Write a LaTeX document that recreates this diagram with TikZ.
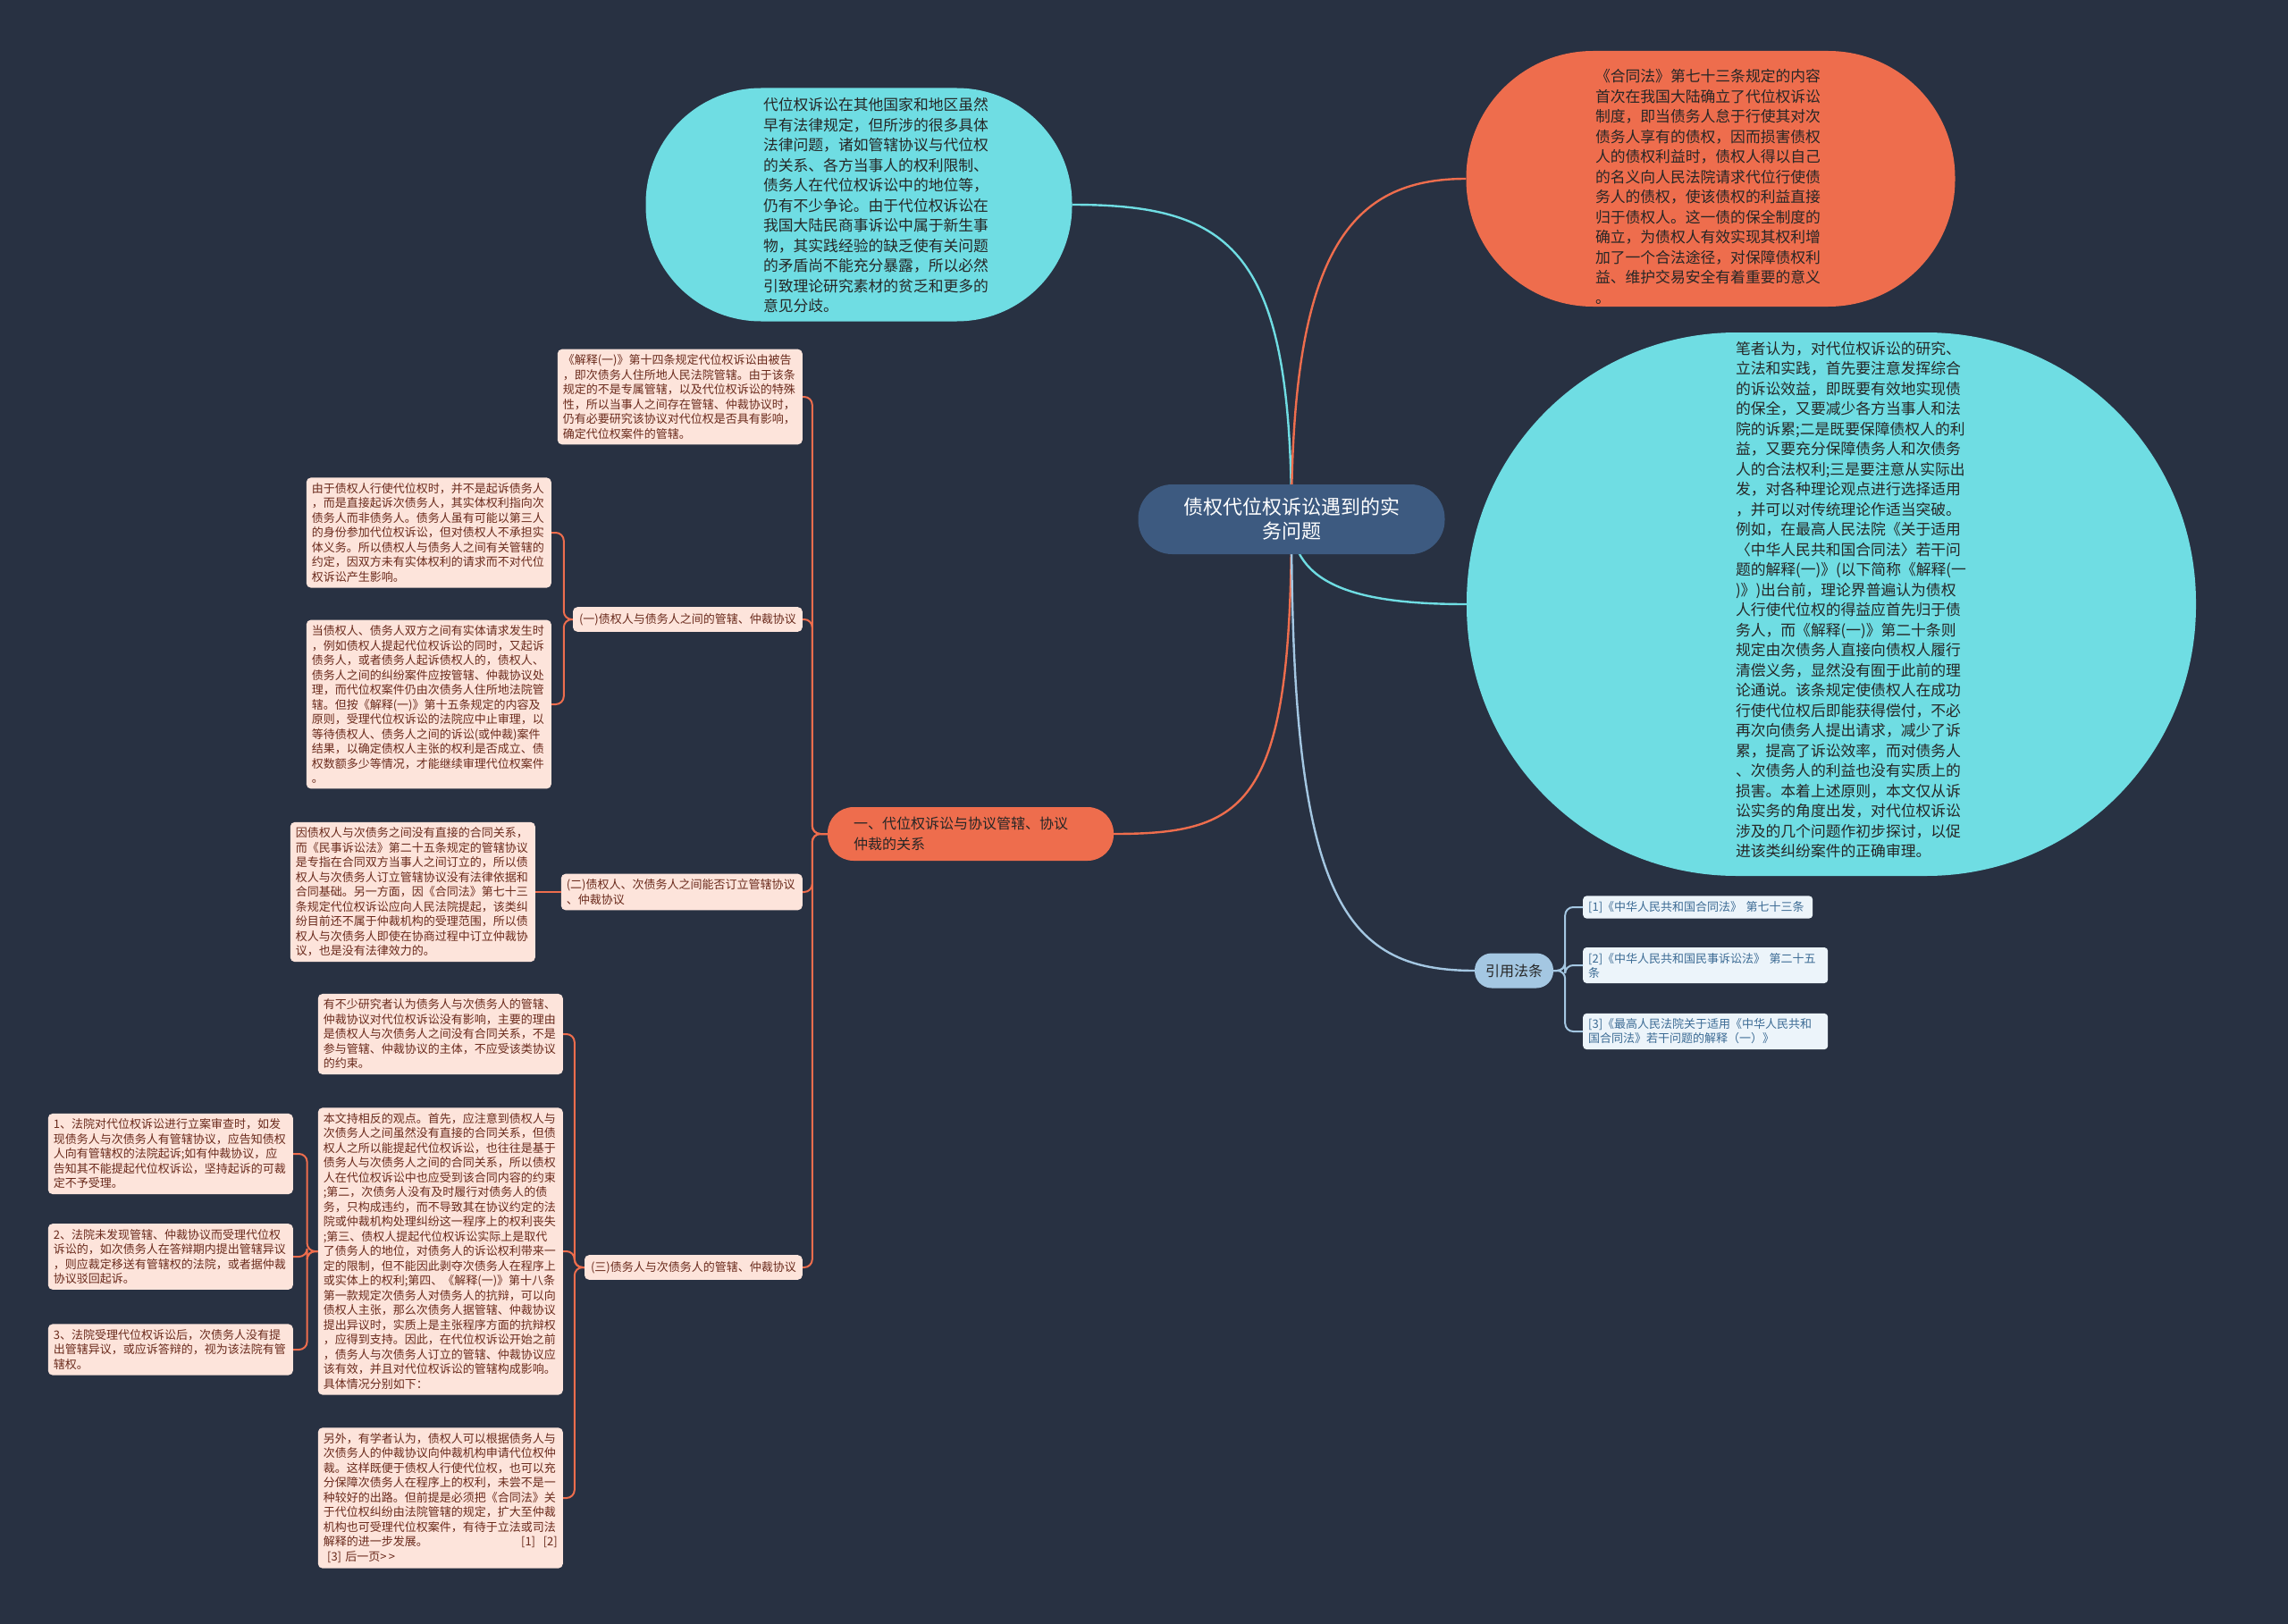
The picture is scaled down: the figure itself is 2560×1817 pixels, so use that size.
\documentclass[tikz,border=0pt]{standalone}
\usepackage{fontspec}
\setmainfont{Noto Sans CJK SC}
\usetikzlibrary{backgrounds}
\definecolor{bgnavy}{HTML}{283142}
\definecolor{mapcyan}{HTML}{6FDDE3}
\definecolor{maporange}{HTML}{EE6D4D}
\definecolor{rootblue}{HTML}{3D5A80}
\definecolor{lawblue}{HTML}{A4C7E2}
\definecolor{lawpale}{HTML}{ECF4FA}
\definecolor{lawtext}{HTML}{3C6B94}
\definecolor{notepink}{HTML}{FDE4DB}
\definecolor{notetext}{HTML}{6A2A1C}
\definecolor{inktext}{HTML}{262626}

\begin{document}
\begin{tikzpicture}[x=1pt,y=-1pt,
  bigtext/.style={font=\fontsize{16.8}{22.5}\selectfont,text=inktext,align=left,text width=254pt},
  blob/.style={bigtext,inner sep=0pt},
  note/.style={fill=notepink,text=notetext,rounded corners=5pt,align=left,text width=262pt,
    inner sep=6pt,font=\fontsize{13}{16.5}\selectfont},
  subtopic/.style={fill=notepink,text=notetext,rounded corners=5pt,align=left,
    inner sep=7pt,font=\fontsize{13}{16.5}\selectfont},
  lawref/.style={fill=lawpale,text=lawtext,rounded corners=4pt,align=left,text width=262pt,
    inner sep=6pt,font=\fontsize{13}{16}\selectfont},
  redline/.style={maporange,line width=2pt,rounded corners=9pt},
  mainline/.style={line width=2.4pt}]

\begin{scope}[on background layer]
  \fill[bgnavy] (0,0) rectangle (2560,1817);
\end{scope}
\useasboundingbox (0,0) rectangle (2560,1817);

% root and first level
\node[fill=rootblue,text=white,rounded corners=38pt,minimum width=343pt,minimum height=78pt,
  align=center,font=\fontsize{22}{27}\selectfont] (root) at (1445,581)
  {债权代位权诉讼遇到的实\\务问题};

\node[fill=mapcyan,rounded corners=129pt,minimum width=477pt,minimum height=261pt] (tl) at (961,229) {};
\node[blob] at (981,230) {代位权诉讼在其他国家和地区虽然\\早有法律规定，但所涉的很多具体\\法律问题，诸如管辖协议与代位权\\的关系、各方当事人的权利限制、\\债务人在代位权诉讼中的地位等，\\仍有不少争论。由于代位权诉讼在\\我国大陆民商事诉讼中属于新生事\\物，其实践经验的缺乏使有关问题\\的矛盾尚不能充分暴露，所以必然\\引致理论研究素材的贫乏和更多的\\意见分歧。};

\node[fill=maporange,rounded corners=142pt,minimum width=547pt,minimum height=286pt] (tr) at (1914,200) {};
\node[blob] at (1912,209) {《合同法》第七十三条规定的内容\\首次在我国大陆确立了代位权诉讼\\制度，即当债务人怠于行使其对次\\债务人享有的债权，因而损害债权\\人的债权利益时，债权人得以自己\\的名义向人民法院请求代位行使债\\务人的债权，使该债权的利益直接\\归于债权人。这一债的保全制度的\\确立，为债权人有效实现其权利增\\加了一个合法途径，对保障债权利\\益、维护交易安全有着重要的意义\\。};

\node[fill=mapcyan,rounded corners=302pt,minimum width=816pt,minimum height=608pt] (big) at (2049,676) {};
\node[blob] at (2069,671) {笔者认为，对代位权诉讼的研究、\\立法和实践，首先要注意发挥综合\\的诉讼效益，即既要有效地实现债\\的保全，又要减少各方当事人和法\\院的诉累;二是既要保障债权人的利\\益，又要充分保障债务人和次债务\\人的合法权利;三是要注意从实际出\\发，对各种理论观点进行选择适用\\，并可以对传统理论作适当突破。\\例如，在最高人民法院《关于适用\\〈中华人民共和国合同法〉若干问\\题的解释(一)》(以下简称《解释(一\\)》)出台前，理论界普遍认为债权\\人行使代位权的得益应首先归于债\\务人，而《解释(一)》第二十条则\\规定由次债务人直接向债权人履行\\清偿义务，显然没有囿于此前的理\\论通说。该条规定使债权人在成功\\行使代位权后即能获得偿付，不必\\再次向债务人提出请求，减少了诉\\累，提高了诉讼效率，而对债务人\\、次债务人的利益也没有实质上的\\损害。本着上述原则，本文仅从诉\\讼实务的角度出发，对代位权诉讼\\涉及的几个问题作初步探讨，以促\\进该类纠纷案件的正确审理。};

\node[fill=maporange,text=inktext,rounded corners=29pt,minimum width=320pt,minimum height=60pt,
  align=left,text width=262pt,font=\fontsize{16}{22.5}\selectfont] (branch) at (1086,933)
  {一、代位权诉讼与协议管辖、协议\\仲裁的关系};

\node[fill=lawblue,text=inktext,rounded corners=19pt,minimum height=39pt,inner xsep=12pt,
  font=\fontsize{16}{20}\selectfont] (lawhead) at (1694,1086) {引用法条};

% cited laws
\node[lawref,text width=245pt,anchor=west] (law1) at (1771,1015) {[1]《中华人民共和国合同法》 第七十三条};
\node[lawref,anchor=west] (law2) at (1771,1080) {[2]《中华人民共和国民事诉讼法》 第二十五\\条};
\node[lawref,anchor=west] (law3) at (1771,1154) {[3]《最高人民法院关于适用《中华人民共和\\国合同法》若干问题的解释（一）》};

% left part
\node[note,anchor=east] (jieshi) at (898,444) {《解释(一)》第十四条规定代位权诉讼由被告\\，即次债务人住所地人民法院管辖。由于该条\\规定的不是专属管辖，以及代位权诉讼的特殊\\性，所以当事人之间存在管辖、仲裁协议时，\\仍有必要研究该协议对代位权是否具有影响，\\确定代位权案件的管辖。};

\node[subtopic,anchor=east] (sub1) at (898,693) {(一)债权人与债务人之间的管辖、仲裁协议};
\node[note,anchor=east] (sub1a) at (617,596) {由于债权人行使代位权时，并不是起诉债务人\\，而是直接起诉次债务人，其实体权利指向次\\债务人而非债务人。债务人虽有可能以第三人\\的身份参加代位权诉讼，但对债权人不承担实\\体义务。所以债权人与债务人之间有关管辖的\\约定，因双方未有实体权利的请求而不对代位\\权诉讼产生影响。};
\node[note,anchor=east] (sub1b) at (617,788) {当债权人、债务人双方之间有实体请求发生时\\，例如债权人提起代位权诉讼的同时，又起诉\\债务人，或者债务人起诉债权人的，债权人、\\债务人之间的纠纷案件应按管辖、仲裁协议处\\理，而代位权案件仍由次债务人住所地法院管\\辖。但按《解释(一)》第十五条规定的内容及\\原则，受理代位权诉讼的法院应中止审理，以\\等待债权人、债务人之间的诉讼(或仲裁)案件\\结果，以确定债权人主张的权利是否成立、债\\权数额多少等情况，才能继续审理代位权案件\\。};

\node[subtopic,anchor=east,text width=258pt,inner sep=6pt] (sub2) at (898,998) {(二)债权人、次债务人之间能否订立管辖协议\\、仲裁协议};
\node[note,anchor=east] (sub2a) at (599,998) {因债权人与次债务之间没有直接的合同关系，\\而《民事诉讼法》第二十五条规定的管辖协议\\是专指在合同双方当事人之间订立的，所以债\\权人与次债务人订立管辖协议没有法律依据和\\合同基础。另一方面，因《合同法》第七十三\\条规定代位权诉讼应向人民法院提起，该类纠\\纷目前还不属于仲裁机构的受理范围，所以债\\权人与次债务人即使在协商过程中订立仲裁协\\议，也是没有法律效力的。};

\node[subtopic,anchor=east] (sub3) at (898,1418) {(三)债务人与次债务人的管辖、仲裁协议};
\node[note,anchor=east] (sub3a) at (630,1157) {有不少研究者认为债务人与次债务人的管辖、\\仲裁协议对代位权诉讼没有影响，主要的理由\\是债权人与次债务人之间没有合同关系，不是\\参与管辖、仲裁协议的主体，不应受该类协议\\的约束。};
\node[note,anchor=east] (sub3b) at (630,1400) {本文持相反的观点。首先，应注意到债权人与\\次债务人之间虽然没有直接的合同关系，但债\\权人之所以能提起代位权诉讼，也往往是基于\\债务人与次债务人之间的合同关系，所以债权\\人在代位权诉讼中也应受到该合同内容的约束\\;第二，次债务人没有及时履行对债务人的债\\务，只构成违约，而不导致其在协议约定的法\\院或仲裁机构处理纠纷这一程序上的权利丧失\\;第三、债权人提起代位权诉讼实际上是取代\\了债务人的地位，对债务人的诉讼权利带来一\\定的限制，但不能因此剥夺次债务人在程序上\\或实体上的权利;第四、《解释(一)》第十八条\\第一款规定次债务人对债务人的抗辩，可以向\\债权人主张，那么次债务人据管辖、仲裁协议\\提出异议时，实质上是主张程序方面的抗辩权\\，应得到支持。因此，在代位权诉讼开始之前\\，债务人与次债务人订立的管辖、仲裁协议应\\该有效，并且对代位权诉讼的管辖构成影响。\\具体情况分别如下：};
\node[note,anchor=east] (sub3c) at (630,1676) {另外，有学者认为，债权人可以根据债务人与\\次债务人的仲裁协议向仲裁机构申请代位权仲\\裁。这样既便于债权人行使代位权，也可以充\\分保障次债务人在程序上的权利，未尝不是一\\种较好的出路。但前提是必须把《合同法》关\\于代位权纠纷由法院管辖的规定，扩大至仲裁\\机构也可受理代位权案件，有待于立法或司法\\解释的进一步发展。\hfill[1]\ \ [2]\\\ [3] 后一页>\,>};

\node[note,anchor=east] (case1) at (328,1291) {1、法院对代位权诉讼进行立案审查时，如发\\现债务人与次债务人有管辖协议，应告知债权\\人向有管辖权的法院起诉;如有仲裁协议，应\\告知其不能提起代位权诉讼，坚持起诉的可裁\\定不予受理。};
\node[note,anchor=east] (case2) at (328,1406) {2、法院未发现管辖、仲裁协议而受理代位权\\诉讼的，如次债务人在答辩期内提出管辖异议\\，则应裁定移送有管辖权的法院，或者据仲裁\\协议驳回起诉。};
\node[note,anchor=east] (case3) at (328,1510) {3、法院受理代位权诉讼后，次债务人没有提\\出管辖异议，或应诉答辩的，视为该法院有管\\辖权。};

% connectors
\begin{scope}[on background layer]
  \draw[mainline,mapcyan] (root.center) .. controls +(0,-300) and +(180,0) .. (tl.east);
  \draw[mainline,maporange] (root.center) .. controls +(0,-300) and +(-130,0) .. (tr.west);
  \draw[mainline,mapcyan] (root.center) .. controls +(0,75) and +(-120,0) .. (big.west);
  \draw[mainline,maporange] (root.center) .. controls +(0,320) and +(150,0) .. (branch.east);
  \draw[mainline,lawblue] (root.center) .. controls +(0,420) and +(-150,0) .. (lawhead.west);
\end{scope}

\foreach \t in {law1,law2,law3}
  \draw[lawblue,line width=2pt,rounded corners=9pt] (lawhead.east) -- ++(13,0) |- (\t.west);

\foreach \t in {jieshi,sub1,sub2,sub3}
  \draw[redline] (branch.west) -- ++(-17,0) |- (\t.east);
\foreach \t in {sub1a,sub1b}
  \draw[redline] (sub1.west) -- ++(-10,0) |- (\t.east);
\draw[redline] (sub2.west) -- (sub2a.east);
\foreach \t in {sub3a,sub3b,sub3c}
  \draw[redline] (sub3.west) -- ++(-11,0) |- (\t.east);
\foreach \t in {case1,case2,case3}
  \draw[redline] (sub3b.west) -- ++(-12,0) |- (\t.east);
\end{tikzpicture}
\end{document}
